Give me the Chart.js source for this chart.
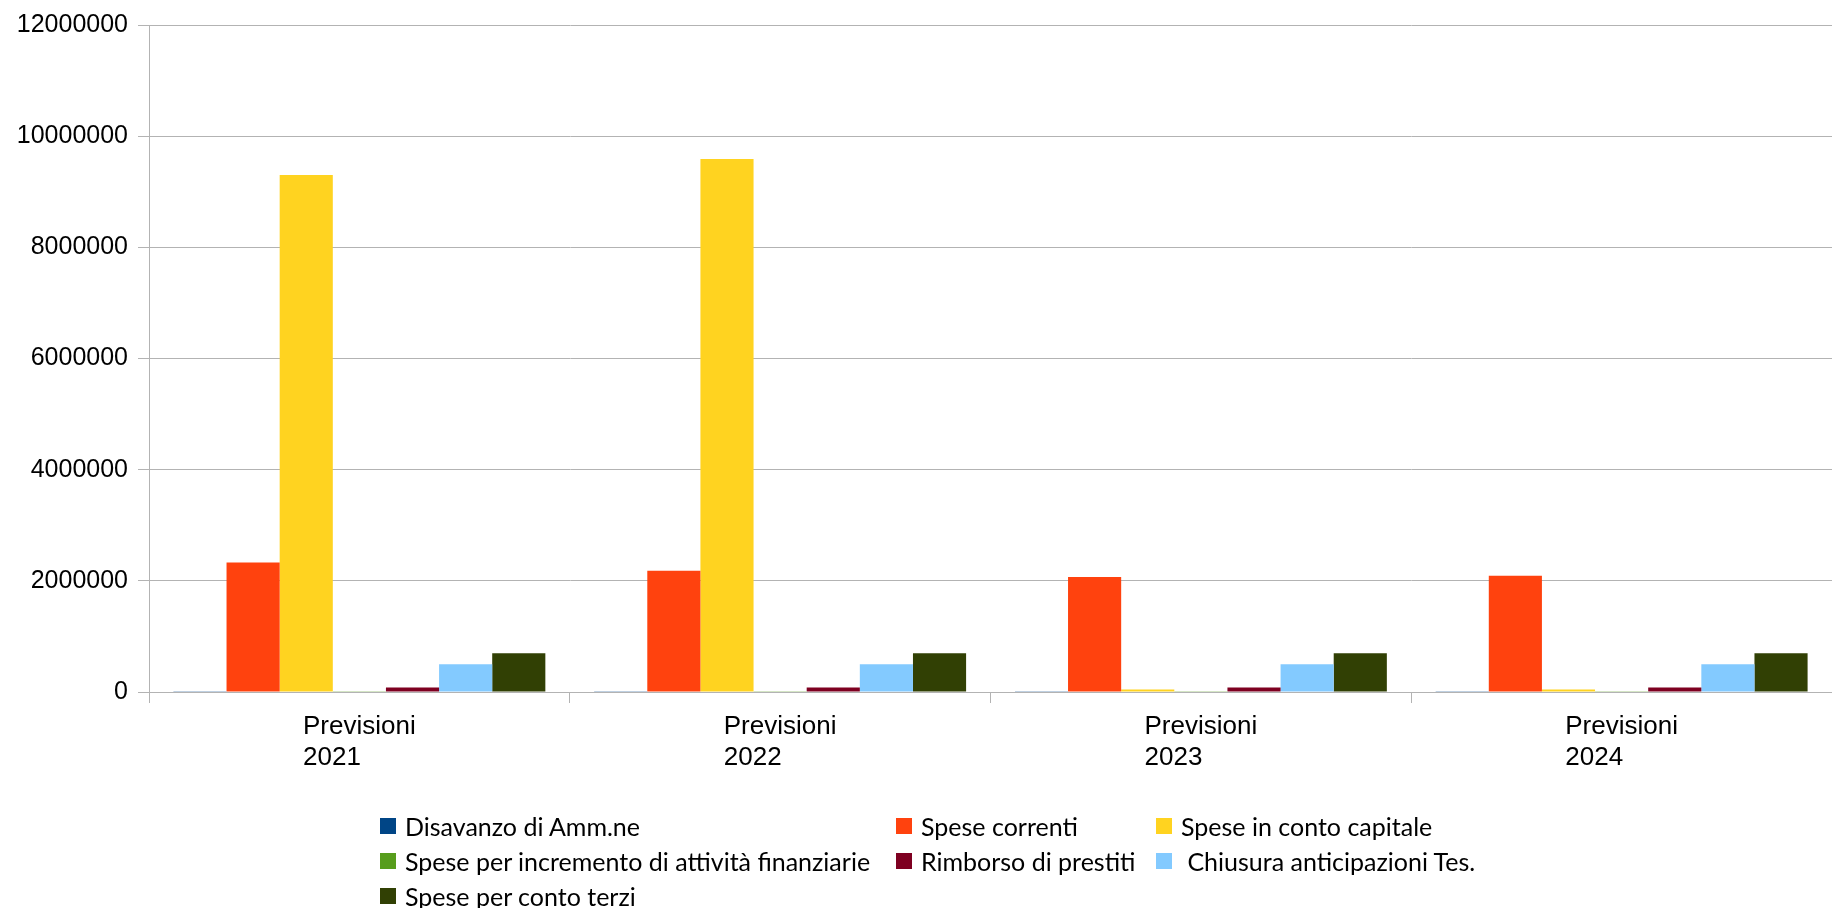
<!DOCTYPE html>
<html lang="it">
<head>
<meta charset="utf-8">
<title>Previsioni di spesa 2021 - 2024</title>
<script src="https://cdn.jsdelivr.net/npm/chart.js@4/dist/chart.umd.min.js"></script>
<style>
  html, body { margin: 0; padding: 0; background: #ffffff; }
  #wrap { position: relative; width: 1832px; height: 908px; overflow: hidden; }
  #spese-chart { position: absolute; left: 0; top: 0; }
  #spese-legend {
    position: absolute; left: 380px; top: 808px;
    display: grid; grid-template-columns: 516px 260px auto;
    font-family: Lato, "Open Sans", sans-serif; font-size: 25px; color: #000;
  }
  #spese-legend .item { height: 35px; display: flex; align-items: center; white-space: pre; }
  #spese-legend .box { width: 16px; height: 16px; margin-right: 9px; flex: none; }
</style>
</head>
<body>
<div id="wrap">
  <canvas id="spese-chart" width="1832" height="908"></canvas>
  <div id="spese-legend"></div>
</div>
<script>
/*global Chart*/

// Categories and tick labels
const categories   = [ 'Previsioni 2021', 'Previsioni 2022', 'Previsioni 2023', 'Previsioni 2024' ];
const y_ticks      = [ 0, 2000000, 4000000, 6000000, 8000000, 10000000, 12000000 ];

// Series values, one per category
const disavanzo    = [ 15000, 15000, 15000, 15000 ];
const correnti     = [ 2330000, 2180000, 2070000, 2090000 ];
const capitale     = [ 9300000, 9590000, 45000, 45000 ];
const incremento   = [ 15000, 15000, 15000, 15000 ];
const rimborso     = [ 80000, 80000, 80000, 80000 ];
const chiusura     = [ 500000, 500000, 500000, 500000 ];
const terzi        = [ 695000, 695000, 695000, 695000 ];

const series_names = [
    'Disavanzo di Amm.ne',
    'Spese correnti',
    'Spese in conto capitale',
    'Spese per incremento di attività finanziarie',
    'Rimborso di prestiti',
    ' Chiusura anticipazioni Tes.',
    'Spese per conto terzi'
];
const series_values = [ disavanzo, correnti, capitale, incremento, rimborso, chiusura, terzi ];

// LibreOffice default palette
const series_colors = [ '#004586', '#ff420e', '#ffd320', '#579d1c', '#7e0021', '#83caff', '#314004' ];

const grid_color = '#b3b3b3';
const axis_font  = '"Liberation Sans", Arial, sans-serif';

/**
 * Category labels: two lines, block centred on the category, lines left aligned
 */
const category_labels_plugin = {
    id: 'categoryLabels',
    afterDraw( chart ) {
        const ctx    = chart.ctx;
        const x_axis = chart.scales.x;
        const bottom = chart.chartArea.bottom;

        ctx.save();
        ctx.font         = '26px ' + axis_font;
        ctx.fillStyle    = '#000000';
        ctx.textAlign    = 'left';
        ctx.textBaseline = 'alphabetic';

        categories.forEach( function ( label, i ) {
            const lines = label.split( ' ' );
            const width = Math.max.apply( null, lines.map( l => ctx.measureText( l ).width ) );
            const x     = x_axis.getPixelForValue( i ) - width / 2;
            lines.forEach( function ( line, j ) {
                ctx.fillText( line, x, bottom + 42 + j * 31 );
            });
        });
        ctx.restore();
    }
};

/**
 * Build the datasets from the series arrays
 */
function spese_datasets() {
    return series_names.map( function ( name, i ) {
        return {
            label:              name,
            data:               series_values[ i ],
            backgroundColor:    series_colors[ i ],
            borderWidth:        0,
            barPercentage:      1.0,
            categoryPercentage: 0.884
        };
    });
}

/**
 * HTML legend laid out in columns, like the original
 */
function spese_legend() {
    const legend = document.getElementById( 'spese-legend' );
    series_names.forEach( function ( name, i ) {
        const item = document.createElement( 'div' );
        item.className = 'item';
        const box = document.createElement( 'span' );
        box.className = 'box';
        box.style.background = series_colors[ i ];
        item.appendChild( box );
        item.appendChild( document.createTextNode( name ) );
        legend.appendChild( item );
    });
}

const spese_chart = new Chart( document.getElementById( 'spese-chart' ), {
    type: 'bar',
    data: {
        labels:   categories,
        datasets: spese_datasets()
    },
    options: {
        responsive: false,
        animation:  false,
        layout: { padding: { top: 23, right: 0, bottom: 0, left: 0 } },
        plugins: {
            legend:  { display: false },
            tooltip: { enabled: false }
        },
        scales: {
            x: {
                offset: true,
                grid: {
                    offset:          true,
                    drawOnChartArea: false,
                    drawTicks:       true,
                    tickLength:      11,
                    color:           grid_color
                },
                border: { display: true, color: grid_color, width: 1 },
                ticks:  { display: false },
                afterFit: function ( scale ) { scale.height = 216; }
            },
            y: {
                min: y_ticks[ 0 ],
                max: y_ticks[ y_ticks.length - 1 ],
                afterBuildTicks: function ( scale ) {
                    scale.ticks = y_ticks.map( v => ( { value: v } ) );
                },
                grid: {
                    color:      grid_color,
                    tickLength: 11,
                    drawTicks:  true
                },
                border: { display: true, color: grid_color, width: 1 },
                ticks: {
                    padding:  10,
                    color:    '#000000',
                    font:     { family: axis_font, size: 25 },
                    callback: function ( value ) { return String( value ); }
                },
                afterFit: function ( scale ) { scale.width = 149; }
            }
        }
    },
    plugins: [ category_labels_plugin ]
});

spese_legend();
</script>
</body>
</html>
